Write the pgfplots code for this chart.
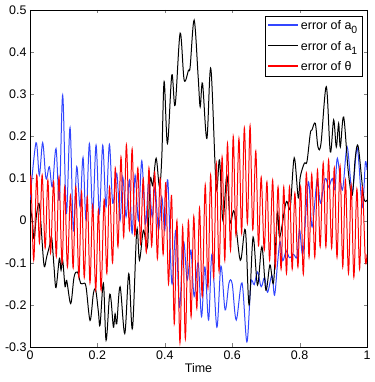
\documentclass[border=0pt]{standalone}
\usepackage{fontspec}
\setmainfont{Liberation Sans}
\usepackage{pgfplots}
\pgfplotsset{compat=1.18}
\definecolor{mblue}{RGB}{50,70,255}
\definecolor{mred}{RGB}{255,0,0}
\newcommand{\sub}[1]{\raisebox{-0.6ex}{\fontsize{10.5}{10.5}\selectfont #1}}
\begin{document}
\begin{tikzpicture}
\begin{axis}[
    scale only axis,
    width=337bp, height=337bp,
    xmin=0, xmax=1, ymin=-0.3, ymax=0.5,
    xtick={0,0.2,0.4,0.6,0.8,1},
    ytick={-0.3,-0.2,-0.1,0,0.1,0.2,0.3,0.4,0.5},
    yticklabel style={/pgf/number format/fixed, /pgf/number format/precision=1},
    xticklabel style={/pgf/number format/fixed},
    /pgf/number format/assume math mode=true,
    tick align=inside,
    major tick length=3.5bp,
    font=\fontsize{12.5}{14}\selectfont,
    xlabel={Time},
    xlabel style={yshift=3bp},
    legend style={at={(0.985,0.982)}, anchor=north east, draw=black,
        font=\fontsize{12.5}{14}\selectfont, inner sep=2.5pt, row sep=6pt},
    legend cell align=left,
    legend image code/.code={\draw[line width=1.5pt, sharp plot] (0bp,0.8bp) -- (30bp,0.8bp);},
    every axis plot/.append style={line width=1pt, smooth, tension=0.55},
]

% error of a0
\addplot[mblue] coordinates {
 (0,0.049) (0.0178,0.185) (0.0277,0.108) (0.0376,0.185) (0.0475,0.100)
 (0.0574,0.128) (0.0663,0.080) (0.0772,0.171) (0.0871,0.049) (0.097,0.298)
 (0.1079,0.017) (0.1188,0.221) (0.1287,-0.023) (0.1386,0.128) (0.1485,0.033)
 (0.1574,0.150) (0.1663,0.001) (0.1762,0.183) (0.1861,0.017) (0.196,0.179)
 (0.2059,0.017) (0.2158,0.179) (0.2257,0.033) (0.2356,0.181) (0.2455,0.041)
 (0.2574,0.112) (0.2673,0.001) (0.2752,0.104) (0.2851,0.009) (0.295,0.096)
 (0.303,-0.030) (0.3119,0.108) (0.3218,0.001) (0.3317,0.142) (0.3426,-0.007)
 (0.3525,0.096) (0.3624,0.009) (0.3713,0.080) (0.3812,-0.023) (0.3911,0.056)
 (0.400,-0.023) (0.4089,0.096) (0.4208,-0.149) (0.4327,-0.023) (0.4436,-0.205)
 (0.4554,-0.050) (0.4665,-0.141) (0.4775,-0.070) (0.4870,-0.180) (0.4990,-0.100)
 (0.5090,-0.228) (0.5190,-0.110) (0.5300,-0.236) (0.5400,-0.080) (0.5545,-0.253)
 (0.5665,-0.108) (0.5790,-0.212) (0.5905,-0.148) (0.6000,-0.150) (0.6120,-0.236)
 (0.6290,-0.148) (0.6436,-0.288) (0.6554,-0.149) (0.6653,-0.152)
 (0.6752,-0.122) (0.6860,-0.157) (0.6960,-0.135) (0.7050,-0.170) (0.7178,-0.130)
 (0.7257,-0.177) (0.7347,-0.100) (0.7420,-0.050) (0.7500,-0.095) (0.7600,-0.072)
 (0.7700,-0.088) (0.7820,-0.080) (0.7920,-0.086) (0.8000,-0.022) (0.8100,-0.078)
 (0.8260,0.092) (0.8370,-0.015) (0.8520,0.096) (0.8620,0.042) (0.8760,0.100)
 (0.8860,0.080) (0.8970,0.100) (0.9050,0.073) (0.9120,0.148) (0.9270,0.073)
 (0.9410,0.175) (0.9560,0.068) (0.9710,0.172) (0.9860,0.032) (0.9950,0.137)
 (1.0,0.120)};
\addlegendentry{error of a\sub{0}}

% error of a1
\addplot[black] coordinates {
 (0,0.033) (0.0069,0.001) (0.0119,-0.043) (0.0198,0.017) (0.0267,0.041)
 (0.0317,0.001) (0.0416,-0.106) (0.0495,-0.086) (0.0594,-0.055) (0.0644,-0.040)
 (0.0713,-0.110) (0.0772,-0.159) (0.0871,-0.090) (0.0921,-0.118) (0.097,-0.094)
 (0.104,-0.157) (0.1089,-0.142) (0.1208,-0.197) (0.1307,-0.134) (0.1406,-0.122)
 (0.1505,-0.149) (0.1584,-0.149) (0.1663,-0.157) (0.1782,-0.237) (0.1881,-0.173)
 (0.195,-0.165) (0.203,-0.217) (0.2079,-0.248) (0.2178,-0.149) (0.2257,-0.284)
 (0.2356,-0.181) (0.2406,-0.189) (0.2475,-0.253) (0.2525,-0.221) (0.2574,-0.245)
 (0.2673,-0.157) (0.2812,-0.268) (0.2931,-0.126) (0.304,-0.256) (0.3168,-0.023)
 (0.3248,-0.094) (0.3366,-0.023) (0.3485,-0.062) (0.3564,0.096) (0.3644,0.084)
 (0.3743,0.148) (0.3842,0.080) (0.3911,0.151) (0.398,0.330) (0.4079,0.183)
 (0.4208,0.346) (0.4307,0.274) (0.4455,0.445) (0.4574,0.334) (0.4703,0.357)
 (0.4752,0.365) (0.4871,0.476) (0.499,0.341) (0.505,0.270) (0.5119,0.326)
 (0.5248,0.195) (0.5366,0.361) (0.5525,0.080) (0.5624,0.144) (0.5723,0.001)
 (0.5842,0.108) (0.594,-0.003) (0.606,0.021) (0.624,-0.094) (0.639,-0.022)
 (0.650,-0.200) (0.662,-0.039) (0.675,-0.153) (0.688,-0.062) (0.700,-0.165)
 (0.712,-0.105) (0.7228,-0.146) (0.734,0.018) (0.741,-0.039) (0.760,0.044)
 (0.772,0.030) (0.784,0.149) (0.796,0.054) (0.802,0.104) (0.8139,0.136)
 (0.8218,0.140) (0.8317,0.207)
 (0.8366,0.215) (0.8465,0.231) (0.8545,0.175) (0.8634,0.183) (0.8792,0.318)
 (0.8911,0.163) (0.901,0.239) (0.9089,0.175) (0.9158,0.231) (0.9208,0.175)
 (0.9307,0.246) (0.9440,0.120) (0.9560,0.060) (0.9653,0.150) (0.9740,0.175)
 (0.9900,0.056) (1.0,0.049)};
\addlegendentry{error of a\sub{1}}

% error of theta
\addplot[mred] coordinates {
 (0,0.060)
 (0.003,0.100) (0.011,-0.094) (0.020,0.108) (0.028,-0.053) (0.036,0.108) (0.045,-0.065)
 (0.053,0.096) (0.061,-0.077) (0.070,0.092) (0.078,-0.085) (0.086,0.104) (0.095,-0.101)
 (0.103,0.080) (0.111,-0.110) (0.120,0.060) (0.128,-0.112) (0.136,0.080) (0.145,-0.134)
 (0.153,0.068) (0.161,-0.135) (0.170,0.056) (0.178,-0.148) (0.186,0.037) (0.195,-0.165)
 (0.203,0.025) (0.211,-0.165) (0.220,0.050) (0.228,-0.125) (0.236,0.080) (0.245,-0.100)
 (0.253,0.125) (0.261,-0.062) (0.270,0.151) (0.278,-0.039) (0.286,0.180) (0.295,-0.022)
 (0.303,0.170) (0.311,-0.035) (0.320,0.125) (0.328,-0.055) (0.336,0.100) (0.345,-0.075)
 (0.353,0.125) (0.361,-0.060) (0.370,0.115) (0.378,-0.090) (0.386,0.100) (0.395,-0.080)
 (0.403,0.090) (0.411,-0.150) (0.420,0.060) (0.428,-0.245) (0.436,0.000) (0.445,-0.290)
 (0.453,-0.015) (0.461,-0.280) (0.470,0.000) (0.478,-0.228) (0.486,0.010) (0.495,-0.208)
 (0.503,0.030) (0.511,-0.180) (0.520,0.085) (0.528,-0.160) (0.536,0.108) (0.545,-0.135)
 (0.553,0.135) (0.561,-0.120) (0.570,0.151) (0.578,-0.094) (0.586,0.183) (0.595,-0.070)
 (0.603,0.200) (0.611,-0.034) (0.620,0.195) (0.628,-0.030) (0.636,0.220) (0.645,-0.006)
 (0.653,0.225) (0.661,-0.022) (0.670,0.165) (0.678,-0.060) (0.686,0.103) (0.695,-0.070)
 (0.703,0.092) (0.711,-0.094) (0.720,0.096) (0.728,-0.110) (0.736,0.080) (0.745,-0.115)
 (0.753,0.080) (0.761,-0.125) (0.770,0.080) (0.778,-0.115) (0.786,0.065) (0.795,-0.110)
 (0.803,0.080) (0.811,-0.127) (0.820,0.113) (0.828,-0.087) (0.836,0.110) (0.845,-0.087)
 (0.853,0.120) (0.861,-0.062) (0.870,0.137) (0.878,-0.062) (0.886,0.144) (0.895,-0.065)
 (0.903,0.125) (0.911,-0.087) (0.920,0.130) (0.928,-0.110) (0.936,0.096) (0.945,-0.125)
 (0.953,0.085) (0.961,-0.134) (0.970,0.075) (0.978,-0.115) (0.986,0.080) (0.995,-0.094)
 (1.0,-0.080)};
\addlegendentry{error of θ}

\end{axis}
\pgfresetboundingbox
\path (current axis.south west) ++(-30bp,-35bp) rectangle ([shift={(7bp,10bp)}]current axis.north east);
\end{tikzpicture}
\end{document}
